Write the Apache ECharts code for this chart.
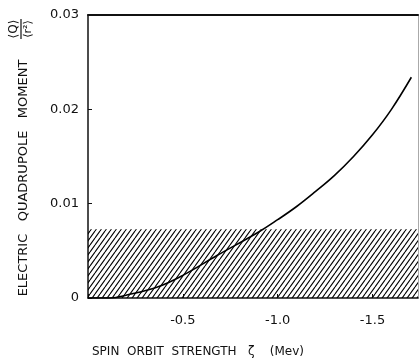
<!DOCTYPE html>
<html>
<head>
<meta charset="utf-8">
<script src="https://cdn.jsdelivr.net/npm/echarts@6/dist/echarts.min.js"></script>
<style>
  html, body { margin: 0; padding: 0; background: #fff; }
  #chart { width: 419px; height: 360px; }
</style>
</head>
<body>
<div id="chart"></div>
<script>
// spin orbit strength zeta (Mev) and quadrupole ratio <Q>/<r^2>
const zeta = [0, -0.12, -0.2, -0.37, -0.5, -0.68, -0.9, -1.0, -1.1, -1.2, -1.3, -1.4, -1.5, -1.6, -1.705];
const qRatio = [0, 0, 0.0003, 0.0012, 0.0024, 0.0045, 0.0070, 0.0083, 0.0097, 0.0113, 0.0130, 0.0150, 0.0173, 0.0200, 0.0234];
// hatched band (experimental range)
const hatchTop = 0.0073;
const zetaRange = [0, -1.74];

const FONT = '"DejaVu Sans", "Liberation Sans", sans-serif';

// diagonal hatch pattern
function makeHatch() {
  const c = document.createElement("canvas");
  const w = 5, h = 7;
  c.width = w; c.height = h;
  const ctx = c.getContext("2d");
  ctx.strokeStyle = "#000";
  ctx.lineWidth = 1.1;
  ctx.beginPath();
  for (let k = -1; k <= 1; k++) {
    ctx.moveTo(k * w, h); ctx.lineTo(k * w + w, 0);
  }
  ctx.stroke();
  return c;
}

const chart = echarts.init(document.getElementById("chart"));

const option = {
  animation: false,
  backgroundColor: "#fff",
  grid: { left: 88, right: 1, top: 15, bottom: 62, show: false },
  xAxis: [
    {
      type: "value",
      min: 0,
      max: Math.abs(zetaRange[1]),
      interval: 0.5,
      axisLine: { show: true, onZero: false, lineStyle: { color: "#111", width: 1.5 } },
      axisTick: { show: true, inside: true, length: 4, lineStyle: { color: "#111" } },
      splitLine: { show: false },
      axisLabel: {
        margin: 16,
        color: "#111",
        fontFamily: FONT,
        fontSize: 13,
        showMaxLabel: false,
        formatter: (v) => (v === 0 ? "" : "-" + v.toFixed(1)),
      },
    },
    {
      type: "value",
      position: "top",
      min: 0,
      max: Math.abs(zetaRange[1]),
      axisLine: { show: true, onZero: false, lineStyle: { color: "#111", width: 2 } },
      axisTick: { show: false },
      axisLabel: { show: false },
      splitLine: { show: false },
    },
  ],
  yAxis: [
    {
      type: "value",
      min: 0,
      max: 0.03,
      interval: 0.01,
      axisLine: { show: true, onZero: false, lineStyle: { color: "#111", width: 1.5 } },
      axisTick: { show: true, inside: true, length: 4, lineStyle: { color: "#111" } },
      splitLine: { show: false },
      axisLabel: {
        margin: 9,
        color: "#111",
        fontFamily: FONT,
        fontSize: 13,
        formatter: (v) => (v === 0 ? "0" : v.toFixed(2)),
      },
    },
    {
      type: "value",
      position: "right",
      min: 0,
      max: 0.03,
      axisLine: { show: true, onZero: false, lineStyle: { color: "#aaa", width: 1 } },
      axisTick: { show: false },
      axisLabel: { show: false },
      splitLine: { show: false },
    },
  ],
  series: [
    {
      type: "line",
      data: zetaRange.map((z) => [Math.abs(z), hatchTop]),
      symbol: "none",
      lineStyle: { width: 0 },
      areaStyle: { color: { image: makeHatch(), repeat: "repeat" }, opacity: 1 },
      z: 1,
    },
    {
      type: "line",
      data: zeta.map((z, i) => [Math.abs(z), qRatio[i]]),
      symbol: "none",
      smooth: 0.4,
      lineStyle: { color: "#000", width: 1.6 },
      z: 3,
    },
  ],
  graphic: [
    {
      type: "text",
      x: 24,
      y: 178,
      rotation: Math.PI / 2,
      style: {
        text: "ELECTRIC   QUADRUPOLE   MOMENT",
        fill: "#111",
        font: "13px " + FONT,
        align: "center",
        verticalAlign: "middle",
      },
    },
    {
      type: "group",
      x: 21,
      y: 29,
      rotation: Math.PI / 2,
      children: [
        { type: "text", x: 0, y: -7, style: { text: "⟨Q⟩", fill: "#111", font: "12px " + FONT, align: "center", verticalAlign: "middle" } },
        { type: "line", shape: { x1: -10, y1: 0, x2: 10, y2: 0 }, style: { stroke: "#111", lineWidth: 1.2 } },
        { type: "text", x: 0, y: 7, style: { text: "⟨r²⟩", fill: "#111", font: "11px " + FONT, align: "center", verticalAlign: "middle" } },
      ],
    },
    {
      type: "text",
      x: 92,
      y: 352,
      style: {
        text: "SPIN  ORBIT  STRENGTH   ζ    (Mev)",
        fill: "#111",
        font: "12px " + FONT,
        align: "left",
        verticalAlign: "middle",
      },
    },
  ],
};

chart.setOption(option);
</script>
</body>
</html>
